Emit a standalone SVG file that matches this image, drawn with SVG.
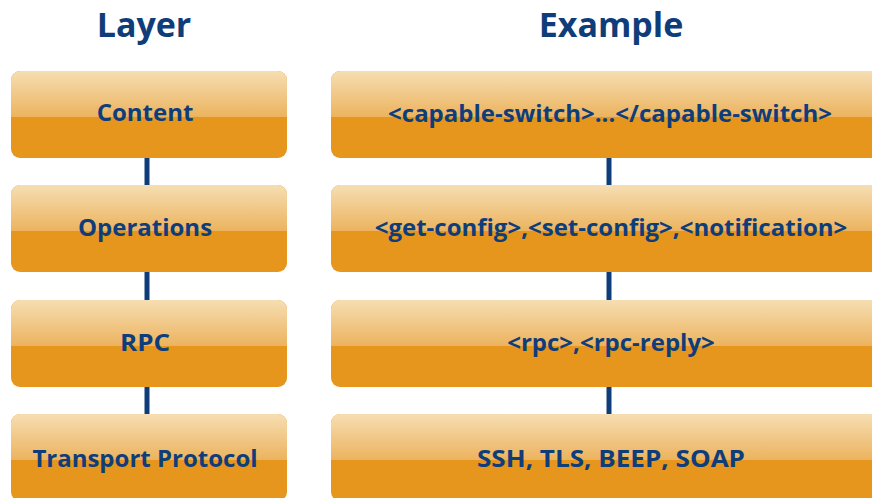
<svg xmlns="http://www.w3.org/2000/svg" width="872" height="498" viewBox="0 0 872 498">
<defs>
<linearGradient id="gl" x1="0" y1="0" x2="0" y2="1">
<stop offset="0" stop-color="#F6DEB3"/>
<stop offset="1" stop-color="#ECB35E"/>
</linearGradient>
<style>
.box{fill:#E6961C}
.gloss{fill:url(#gl)}
.t{font-family:"Open Sans","Liberation Sans",sans-serif;font-weight:700;fill:#0F3D79;text-anchor:middle}
.lbl{font-size:24px}
.hd{font-size:34px}
.con{stroke:#0F3D79;stroke-width:5}
</style>
</defs>
<text class="t hd" x="144" y="37">Layer</text>
<text class="t hd" x="611" y="37">Example</text>
<g id="connectors">
<line class="con" x1="147" y1="157" x2="147" y2="187"/>
<line class="con" x1="147" y1="271" x2="147" y2="301"/>
<line class="con" x1="147" y1="385" x2="147" y2="415"/>
<line class="con" x1="609" y1="157" x2="609" y2="187"/>
<line class="con" x1="609" y1="271" x2="609" y2="301"/>
<line class="con" x1="609" y1="385" x2="609" y2="415"/>
</g>
<g id="layer-content">
<rect class="box" x="11" y="71" width="276" height="87" rx="9"/>
<path class="gloss" d="M11,117 V80 a9,9 0 0 1 9,-9 H278 a9,9 0 0 1 9,9 V117 Z"/>
<text class="t lbl" x="145" y="121">Content</text>
</g>
<g id="layer-operations">
<rect class="box" x="11" y="185" width="276" height="87" rx="9"/>
<path class="gloss" d="M11,231 V194 a9,9 0 0 1 9,-9 H278 a9,9 0 0 1 9,9 V231 Z"/>
<text class="t lbl" x="145" y="236">Operations</text>
</g>
<g id="layer-rpc">
<rect class="box" x="11" y="300" width="276" height="87" rx="9"/>
<path class="gloss" d="M11,346 V309 a9,9 0 0 1 9,-9 H278 a9,9 0 0 1 9,9 V346 Z"/>
<text class="t lbl" x="145" y="351" textLength="50" lengthAdjust="spacingAndGlyphs">RPC</text>
</g>
<g id="layer-transport">
<rect class="box" x="11" y="414" width="276" height="87" rx="9"/>
<path class="gloss" d="M11,460 V423 a9,9 0 0 1 9,-9 H278 a9,9 0 0 1 9,9 V460 Z"/>
<text class="t lbl" x="145" y="467">Transport Protocol</text>
</g>
<g id="example-content">
<rect class="box" x="331" y="71" width="560" height="87" rx="9"/>
<path class="gloss" d="M331,117 V80 a9,9 0 0 1 9,-9 H882 a9,9 0 0 1 9,9 V117 Z"/>
<text class="t lbl" x="610" y="122">&lt;capable-switch&gt;...&lt;/capable-switch&gt;</text>
</g>
<g id="example-operations">
<rect class="box" x="331" y="185" width="560" height="87" rx="9"/>
<path class="gloss" d="M331,231 V194 a9,9 0 0 1 9,-9 H882 a9,9 0 0 1 9,9 V231 Z"/>
<text class="t lbl" x="611" y="236">&lt;get-config&gt;,&lt;set-config&gt;,&lt;notification&gt;</text>
</g>
<g id="example-rpc">
<rect class="box" x="331" y="300" width="560" height="87" rx="9"/>
<path class="gloss" d="M331,346 V309 a9,9 0 0 1 9,-9 H882 a9,9 0 0 1 9,9 V346 Z"/>
<text class="t lbl" x="611" y="351">&lt;rpc&gt;,&lt;rpc-reply&gt;</text>
</g>
<g id="example-transport">
<rect class="box" x="331" y="414" width="560" height="87" rx="9"/>
<path class="gloss" d="M331,460 V423 a9,9 0 0 1 9,-9 H882 a9,9 0 0 1 9,9 V460 Z"/>
<text class="t lbl" x="611" y="467" textLength="268" lengthAdjust="spacingAndGlyphs">SSH, TLS, BEEP, SOAP</text>
</g>
</svg>
